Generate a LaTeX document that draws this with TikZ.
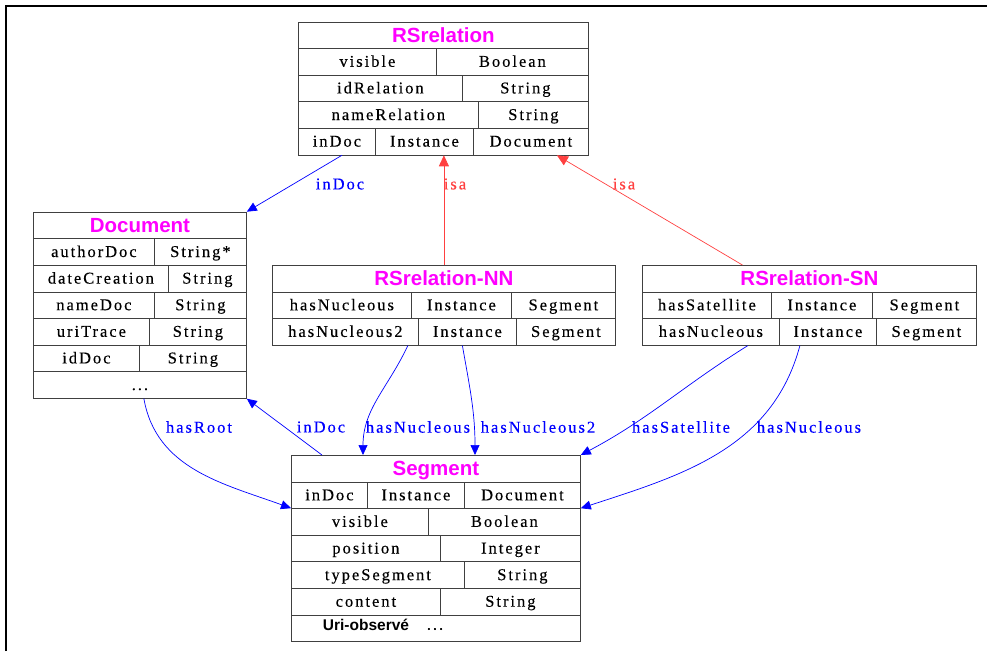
\documentclass[tikz,border=0pt]{standalone}
\usepackage{fontspec}
\setmainfont{Liberation Serif}[LetterSpace=12,FakeBold=0.3]
\newfontfamily\headfont{Liberation Sans}
\usepackage{xcolor}
\usepackage{tikz}
\usetikzlibrary{arrows.meta,calc}

\definecolor{linkblue}{RGB}{0,0,255}
\definecolor{isared}{RGB}{255,64,64}
\definecolor{headmag}{RGB}{255,0,255}

\tikzset{
  cell/.style={draw=black!75,line width=0.8pt,anchor=north west,inner sep=0pt,
    minimum height=26.6pt,text height=12pt,text depth=2pt,
    font=\fontsize{16.5}{18}\selectfont},
  head/.style={cell,text=headmag,text height=15pt,text depth=1pt,
    font=\headfont\bfseries\fontsize{20.5}{22}\selectfont},
  link/.style={draw=linkblue,line width=0.7pt,-{Triangle[length=10pt,width=9pt]}},
  isa/.style={draw=isared,line width=0.7pt,-{Triangle[length=11pt,width=10pt]}},
  linklabel/.style={text=linkblue,font=\fontsize{16.5}{18}\selectfont,inner sep=1pt},
  isalabel/.style={text=isared,font=\fontsize{16.5}{18}\selectfont,inner sep=1pt}
}

\begin{document}
\begin{tikzpicture}[x=1pt,y=-1pt]
  \useasboundingbox (0,0) rectangle (987,651);
  \draw[line width=2pt] (6,651) -- (6,6) -- (987,6);

  % RSrelation
  \node[head,minimum width=290] (rr) at (298,21.5) {RSrelation};
  \node[cell,minimum width=138] (rr-vis) at (298,48.1) {visible};
  \node[cell,minimum width=152] (rr-bool) at (436,48.1) {Boolean};
  \node[cell,minimum width=164] (rr-id) at (298,74.7) {idRelation};
  \node[cell,minimum width=126] (rr-str1) at (462,74.7) {String};
  \node[cell,minimum width=180] (rr-name) at (298,101.3) {nameRelation};
  \node[cell,minimum width=110] (rr-str2) at (478,101.3) {String};
  \node[cell,minimum width=77] (rr-indoc) at (298,127.9) {inDoc};
  \node[cell,minimum width=98] (rr-inst) at (375,127.9) {Instance};
  \node[cell,minimum width=115] (rr-doc) at (473,127.9) {Document};

  % Document
  \node[head,minimum width=213] (doc) at (33,211.7) {Document};
  \node[cell,minimum width=121] (doc-author) at (33,238.3) {authorDoc};
  \node[cell,minimum width=92] (doc-str1) at (154,238.3) {String*};
  \node[cell,minimum width=135] (doc-date) at (33,264.9) {dateCreation};
  \node[cell,minimum width=78] (doc-str2) at (168,264.9) {String};
  \node[cell,minimum width=121] (doc-name) at (33,291.5) {nameDoc};
  \node[cell,minimum width=92] (doc-str3) at (154,291.5) {String};
  \node[cell,minimum width=116] (doc-uri) at (33,318.1) {uriTrace};
  \node[cell,minimum width=97] (doc-str4) at (149,318.1) {String};
  \node[cell,minimum width=106] (doc-id) at (33,344.7) {idDoc};
  \node[cell,minimum width=107] (doc-str5) at (139,344.7) {String};
  \node[cell,minimum width=213] (doc-more) at (33,371.3) {...};

  % RSrelation-NN
  \node[head,minimum width=343] (nn) at (272,265) {RSrelation-NN};
  \node[cell,minimum width=139] (nn-nuc) at (272,291.6) {hasNucleous};
  \node[cell,minimum width=100] (nn-inst1) at (411,291.6) {Instance};
  \node[cell,minimum width=104] (nn-seg1) at (511,291.6) {Segment};
  \node[cell,minimum width=146] (nn-nuc2) at (272,318.2) {hasNucleous2};
  \node[cell,minimum width=98] (nn-inst2) at (418,318.2) {Instance};
  \node[cell,minimum width=99] (nn-seg2) at (516,318.2) {Segment};

  % RSrelation-SN
  \node[head,minimum width=334] (sn) at (642,265) {RSrelation-SN};
  \node[cell,minimum width=129] (sn-sat) at (642,291.6) {hasSatellite};
  \node[cell,minimum width=101] (sn-inst1) at (771,291.6) {Instance};
  \node[cell,minimum width=104] (sn-seg1) at (872,291.6) {Segment};
  \node[cell,minimum width=137] (sn-nuc) at (642,318.2) {hasNucleous};
  \node[cell,minimum width=97] (sn-inst2) at (779,318.2) {Instance};
  \node[cell,minimum width=100] (sn-seg2) at (876,318.2) {Segment};

  % Segment
  \node[head,minimum width=289] (sg) at (291,455) {Segment};
  \node[cell,minimum width=76] (sg-indoc) at (291,481.6) {inDoc};
  \node[cell,minimum width=97] (sg-inst) at (367,481.6) {Instance};
  \node[cell,minimum width=116] (sg-doc) at (464,481.6) {Document};
  \node[cell,minimum width=137] (sg-vis) at (291,508.2) {visible};
  \node[cell,minimum width=152] (sg-bool) at (428,508.2) {Boolean};
  \node[cell,minimum width=149] (sg-pos) at (291,534.8) {position};
  \node[cell,minimum width=140] (sg-int) at (440,534.8) {Integer};
  \node[cell,minimum width=173] (sg-type) at (291,561.4) {typeSegment};
  \node[cell,minimum width=116] (sg-str1) at (464,561.4) {String};
  \node[cell,minimum width=149] (sg-cont) at (291,588) {content};
  \node[cell,minimum width=140] (sg-str2) at (440,588) {String};
  \node[cell,minimum width=289] (sg-more) at (291,614.6) {};
  \node[font=\headfont\bfseries\fontsize{15.5}{17}\selectfont,inner sep=0pt]
    (sg-uri) at (366,625) {Uri-observé};
  \node[font=\fontsize{16.5}{18}\selectfont,inner sep=0pt] (sg-dots) at (435,629) {...};

  % isa links
  \draw[isa] (nn.north) -- (nn.north |- rr-inst.south);
  \draw[isa] ($(sn.north west)!0.3!(sn.north east)$) -- ([xshift=26]rr-doc.south);
  \node[isalabel] (isa-nn) at (455,184) {isa};
  \node[isalabel] (isa-sn) at (624,184) {isa};

  % blue links
  \draw[link] ([xshift=5]rr-indoc.south) -- (doc.north east);
  \draw[link] ([xshift=31]sg.north west) -- (doc-more.south east);
  \draw[link] ([xshift=4]doc-more.south) to[out=-80,in=160] (sg-vis.north west);
  \draw[link] ([xshift=-11]nn-nuc2.south east) to[out=-115,in=90] ([xshift=72]sg.north west);
  \draw[link] ([xshift=-5]nn-inst2.south) to[out=-80,in=90] ([xshift=184]sg.north west);
  \draw[link] ([xshift=-32]sn-nuc.south east) to[out=-148,in=28] (sg.north east);
  \draw[link] ([xshift=-28]sn-inst2.south) to[out=-105,in=18] (sg-bool.north east);
  \node[linklabel] (l-indoc1) at (340,184) {inDoc};
  \node[linklabel] (l-root) at (199,427) {hasRoot};
  \node[linklabel] (l-indoc2) at (321,427) {inDoc};
  \node[linklabel] (l-nuc1) at (418,427) {hasNucleous};
  \node[linklabel] (l-nuc2) at (538,427) {hasNucleous2};
  \node[linklabel] (l-sat) at (681,427) {hasSatellite};
  \node[linklabel] (l-nuc3) at (809,427) {hasNucleous};
\end{tikzpicture}
\end{document}
